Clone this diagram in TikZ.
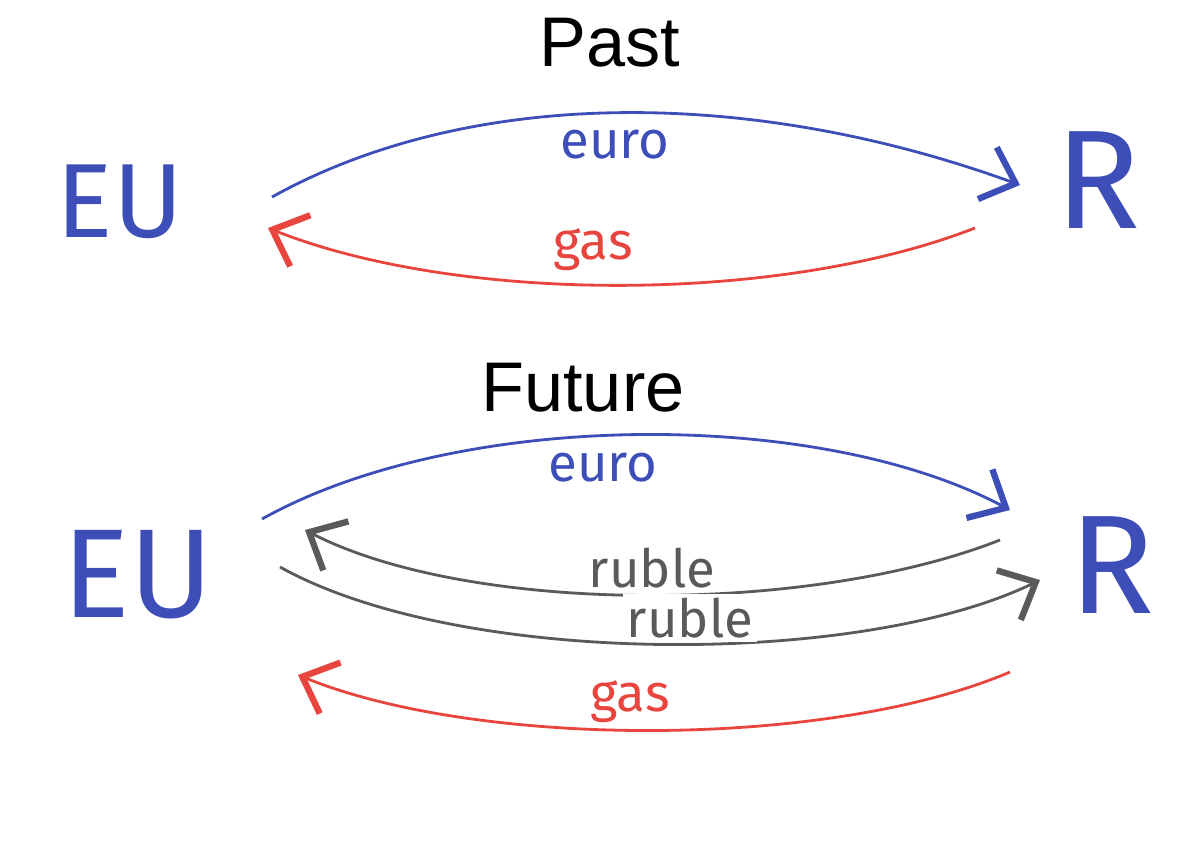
\documentclass[tikz,border=0pt]{standalone}
\usepackage{fontspec}
\setmainfont{Liberation Sans}
\newfontfamily\handfont{Fira Sans}
\usetikzlibrary{arrows.meta}
\definecolor{penblue}{HTML}{3D4EB8}
\definecolor{penred}{HTML}{E9453F}
\definecolor{pengray}{HTML}{5A5A5A}
\tikzset{flow/.style={line width=0.8pt,-{Straight Barb[length=3mm,width=5.5mm,line width=1.8pt]}},
  lbl/.style={font=\handfont\fontsize{15}{18}\selectfont},
  party/.style={penblue,font=\handfont\fontsize{30}{36}\selectfont},
  ttl/.style={font=\fontsize{20}{24}\selectfont}}

\begin{document}
\begin{tikzpicture}
\useasboundingbox (0,0) rectangle (12,-8.48);
% past
\node[ttl] (past) at (6.10,-0.43) {Past};
\node[party] (eu1) at (1.20,-2.02) {EU};
\node[party,font=\handfont\fontsize{40}{48}\selectfont] (r1) at (10.98,-1.80) {R};
\coordinate (a1) at (2.72,-1.97); \coordinate (b1) at (10.20,-1.85);
\coordinate (c1) at (9.75,-2.28); \coordinate (d1) at (2.68,-2.28);
\draw[flow,penblue] (a1) .. controls (4.7,-0.87) and (7.5,-0.87) .. (b1);
\draw[flow,penred] (c1) .. controls (7.8,-3.04) and (4.6,-3.04) .. (d1);
\node[lbl,penblue] (euro1) at (6.15,-1.45) {euro};
\node[lbl,penred] (gas1) at (5.93,-2.50) {gas};
% future
\node[ttl] (future) at (5.83,-3.88) {Future};
\node[party,font=\handfont\fontsize{36}{42}\selectfont] (eu2) at (1.38,-5.75) {EU};
\node[party,font=\handfont\fontsize{40}{48}\selectfont] (r2) at (11.12,-5.65) {R};
\coordinate (a2) at (2.62,-5.19); \coordinate (b2) at (10.10,-5.10);
\coordinate (c2) at (10.00,-5.40); \coordinate (d2) at (3.05,-5.30);
\coordinate (e2) at (2.80,-5.67); \coordinate (f2) at (10.40,-5.80);
\coordinate (g2) at (10.10,-6.72); \coordinate (h2) at (2.98,-6.75);
\draw[flow,penblue] (a2) .. controls (4.6,-4.085) and (8.2,-4.085) .. (b2);
\draw[flow,pengray] (c2) .. controls (8.1,-6.15) and (4.7,-6.15) .. (d2);
\draw[flow,pengray] (e2) .. controls (4.6,-6.675) and (8.6,-6.675) .. (f2);
\draw[flow,penred] (g2) .. controls (8.3,-7.49) and (4.8,-7.49) .. (h2);
\node[lbl,penblue] (euro2) at (6.03,-4.68) {euro};
\node[lbl,pengray,fill=white,inner sep=1pt] (ruble1) at (6.52,-5.68) {ruble};
\node[lbl,pengray,fill=white,inner sep=1pt] (ruble2) at (6.90,-6.18) {ruble};
\node[lbl,penred] (gas2) at (6.30,-7.02) {gas};
\end{tikzpicture}
\end{document}
